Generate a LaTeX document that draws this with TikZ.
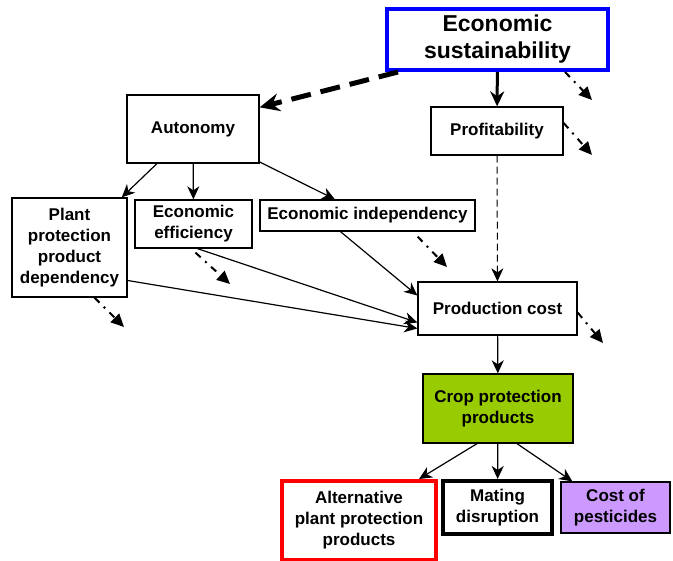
\documentclass[tikz,border=0pt]{standalone}
\usepackage{fontspec}
\setmainfont{Liberation Sans}
\usetikzlibrary{arrows,arrows.meta}

\definecolor{cropgreen}{HTML}{99CC00}
\definecolor{costviolet}{HTML}{CC99FF}

\begin{document}
\begin{tikzpicture}[x=1pt,y=-1pt,->,>={Stealth[length=13pt,width=12pt,inset=4pt]},
  line width=1.2pt,inner sep=0pt,
  box/.style={draw,line width=1.3pt,fill=white,align=center,font=\fontsize{17}{21}\selectfont\bfseries},
  drift/.style={line width=2pt,dash pattern=on 7pt off 6pt on 2pt off 6pt,-{Triangle[length=13pt,width=12pt]}}]

  \useasboundingbox (0,0) rectangle (673,561);

  \node[box,draw=blue,line width=4pt,minimum width=221pt,minimum height=61pt,
    font=\fontsize{23}{27}\selectfont\bfseries] (esust) at (497.5,39.5) {Economic\\sustainability};
  \node[box,minimum width=132pt,minimum height=48pt] (profit) at (497,131) {Profitability};
  \node[box,minimum width=132pt,minimum height=68pt] (auton) at (193,129) {Autonomy};
  \node[box,minimum width=115pt,minimum height=99pt] (plantdep) at (69.5,247.5) {Plant\\protection\\product\\dependency};
  \node[box,minimum width=117pt,minimum height=48pt] (effic) at (193.5,224) {Economic\\efficiency};
  \node[box,minimum width=215pt,minimum height=31pt] (indep) at (367.5,215.5) {Economic independency};
  \node[box,minimum width=159pt,minimum height=53pt] (pcost) at (497.5,308.5) {Production cost};
  \node[box,fill=cropgreen,minimum width=150pt,minimum height=69pt] (crop) at (498,408.5) {Crop protection\\products};
  \node[box,draw=red,line width=4pt,minimum width=154pt,minimum height=79pt] (altern) at (359,520.5) {Alternative\\plant protection\\products};
  \node[box,line width=4pt,minimum width=109pt,minimum height=53pt] (mating) at (497.5,507.5) {Mating\\disruption};
  \node[box,fill=costviolet,minimum width=109pt,minimum height=51pt] (pest) at (615.5,507.5) {Cost of\\pesticides};

  % loose ends of the dash-dot arrows
  \coordinate (e1) at (592,100);
  \coordinate (e2) at (592,155);
  \coordinate (e3) at (447,267);
  \coordinate (e4) at (230,284);
  \coordinate (e5) at (124,327);
  \coordinate (e6) at (603,343);

  \draw[line width=5pt,dash pattern=on 20pt off 10pt,-{Stealth[length=20pt,width=18pt,inset=7pt]}]
    ([xshift=13pt]esust.south west) -- ([yshift=-13pt]auton.north east);
  \draw[line width=3pt,-{Stealth[length=15pt,width=14pt,inset=5pt]}] (esust) -- (profit);

  \path
    (auton) edge (plantdep)
            edge (effic)
            edge (indep)
    ([xshift=-27pt]indep.south) edge ([yshift=13pt]pcost.west)
    ([xshift=4pt]effic.south) edge ([yshift=-14pt]pcost.west)
    ([yshift=-33pt]plantdep.east) edge ([yshift=-20pt]pcost.west)
    (pcost) edge (crop)
    ([xshift=-21pt]crop.south) edge ([xshift=-19pt]altern.north east)
    (crop) edge (mating)
    ([xshift=19pt]crop.south) edge ([xshift=12pt]pest.north west)
    ;
  \draw[line width=1pt,dash pattern=on 7pt off 4pt] (profit) -- (pcost);

  \path[drift]
    ([xshift=-45pt]esust.south east) edge (e1)
    ([yshift=8pt]profit.east) edge (e2)
    ([xshift=-58pt,yshift=-5pt]indep.south east) edge (e3)
    ([shift={(2pt,-4pt)}]effic.south) edge (e4)
    ([xshift=25pt]plantdep.south) edge (e5)
    ([yshift=-4pt]pcost.east) edge (e6)
    ;
\end{tikzpicture}
\end{document}
